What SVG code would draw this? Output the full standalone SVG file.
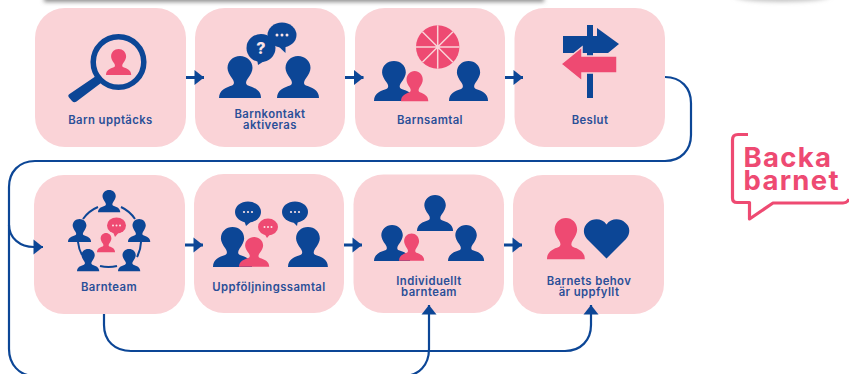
<svg xmlns="http://www.w3.org/2000/svg" width="849" height="374" viewBox="0 0 849 374">
<style>
.card{fill:#fad3d7}
.b{fill:#0c4696}
.p{fill:#ee4a72}
.w{fill:#fbe3e6}
.line{fill:none;stroke:#0c4696;stroke-width:2.2}
.thick{fill:none;stroke:#0c4696;stroke-width:3}
.t{font-family:"Inter","Liberation Sans",sans-serif;font-weight:600;font-size:11.300px;fill:#2a4f98;text-anchor:middle;letter-spacing:.42px}
.logo{font-family:"Inter","Liberation Sans",sans-serif;font-weight:700;font-size:27.500px;fill:#ee4a72;letter-spacing:1.300px}
</style>
<defs>
<filter id="blur" x="-5%" y="-200%" width="110%" height="500%"><feGaussianBlur stdDeviation="2"/></filter>
<path id="person" d="M0 42C0 34 7 31.500 13 29.500C15.500 28.500 15.500 26 13.500 23C10.500 19 8.500 15 8.500 12C8.500 5 14 0 21 0C28 0 33.500 5 33.500 12C33.500 15 31.500 19 28.500 23C26.500 26 26.500 28.500 29 29.500C35 31.500 42 34 42 42Z"/>
<marker id="arrow" markerUnits="userSpaceOnUse" markerWidth="10" markerHeight="15" refX="9.500" refY="7.500" orient="auto" overflow="visible"><path class="b" d="M0 0L9.500 7.500L0 15Z"/></marker>
</defs>
<g id="backdrop">
<rect x="44" y="-12" width="500" height="14" fill="#8f8f8f" filter="url(#blur)"/>
<ellipse cx="782" cy="-4" rx="48" ry="6" fill="#c4c4c4" filter="url(#blur)"/>
</g>

<g id="n1"><rect class="card" x="35" y="8" width="151" height="139" rx="30"/>
<circle cx="118.500" cy="62" r="25.300" fill="none" stroke="#0c4696" stroke-width="5.500"/>
<path class="b" d="M96 76L101 83L76.500 101.500C75 102.500 73.500 102.500 72 101L69 97.500C68 96 68 95 69.500 94Z"/>
<use href="#person" class="p" transform="translate(106 49) scale(.6 .62)"/>
<text class="t" x="110.500" y="124">Barn upptäcks</text></g>

<g id="n2"><rect class="card" x="195" y="8" width="150" height="139" rx="30"/>
<use href="#person" class="b" transform="translate(219 56)"/>
<use href="#person" class="b" transform="translate(277 56)"/>
<ellipse class="b" cx="261" cy="48" rx="14.500" ry="14"/><path class="b" d="M257 58L258 65L269 58Z"/>
<ellipse class="b" cx="282" cy="35" rx="14.500" ry="12.500"/><path class="b" d="M276 44L285.500 53L285.500 44Z"/>
<text x="261" y="54" text-anchor="middle" font-family="Inter,'Liberation Sans',sans-serif" font-weight="800" font-size="16" fill="#fbe3e6">?</text>
<circle class="w" cx="277" cy="35" r="1.500"/><circle class="w" cx="282" cy="35" r="1.500"/><circle class="w" cx="287" cy="35" r="1.500"/>
<text class="t"><tspan x="270" y="118">Barnkontakt</tspan><tspan x="270" y="128.500">aktiveras</tspan></text></g>

<g id="n3"><rect class="card" x="355" y="8" width="150" height="139" rx="30"/>
<circle class="p" cx="437.700" cy="47" r="21.700"/>
<path d="M437.700 25.300V68.700M416 47H459.400M422.400 31.700L453 62.300M453 31.700L422.400 62.300" stroke="#fad3d7" stroke-width="1.500"/>
<use href="#person" class="b" transform="translate(374 61) scale(.95)"/>
<use href="#person" class="p" transform="translate(401 71) scale(.65 .72)"/>
<use href="#person" class="b" transform="translate(449 61) scale(.93 .95)"/>
<text class="t" x="430" y="124">Barnsamtal</text></g>

<g id="n4"><rect class="card" x="514.500" y="8" width="150.500" height="139" rx="30"/>
<rect class="b" x="587" y="25" width="6" height="73"/>
<path class="b" d="M563 36H597V28L619 44L608 53H563Z"/>
<path class="p" d="M561 64L582 47V56H617V73H582V81Z" stroke="#fad3d7" stroke-width="1.500"/>
<text class="t" x="590" y="124">Beslut</text></g>

<g id="n5"><rect class="card" x="34" y="175" width="151" height="139" rx="30"/>
<g fill="none" stroke="#0c4696" stroke-width="2">
<path d="M83 219A34 34 0 0 1 98 207"/><path d="M121 207A34 34 0 0 1 135 219"/><path d="M141 242A34 34 0 0 1 137 257"/><path d="M117 266A34 34 0 0 1 100 266"/><path d="M82 255A34 34 0 0 1 78 242"/></g>
<use href="#person" class="b" transform="translate(98 190) scale(.53)"/>
<use href="#person" class="b" transform="translate(68 219) scale(.55)"/>
<use href="#person" class="b" transform="translate(128 219) scale(.53 .55)"/>
<use href="#person" class="b" transform="translate(77 249) scale(.53)"/>
<use href="#person" class="b" transform="translate(118 249) scale(.53)"/>
<use href="#person" class="p" transform="translate(97 233) scale(.43 .46)"/>
<ellipse class="p" cx="116.500" cy="225.500" rx="9.500" ry="8"/><path class="p" d="M113 232L115 237L120 231Z"/>
<circle class="w" cx="113" cy="225.500" r="1"/><circle class="w" cx="116.500" cy="225.500" r="1"/><circle class="w" cx="120" cy="225.500" r="1"/>
<text class="t" x="109" y="291">Barnteam</text></g>

<g id="n6"><rect class="card" x="194" y="174" width="150" height="139" rx="30"/>
<use href="#person" class="b" transform="translate(213 227) scale(.93 .95)"/>
<use href="#person" class="p" transform="translate(239 237) scale(.72 .71)"/>
<use href="#person" class="b" transform="translate(288 227) scale(.95)"/>
<ellipse class="b" cx="248" cy="212" rx="13" ry="10.500"/><path class="b" d="M244 220L246 226L253 220Z"/>
<ellipse class="p" cx="268" cy="227" rx="10" ry="8.500"/><path class="p" d="M264 233L267 238L271 233Z"/>
<ellipse class="b" cx="295" cy="212" rx="13" ry="10.500"/><path class="b" d="M291 220L297 226L298 220Z"/>
<g class="w"><circle cx="244" cy="212" r="1.100"/><circle cx="248" cy="212" r="1.100"/><circle cx="252" cy="212" r="1.100"/>
<circle cx="264.500" cy="227" r="1"/><circle cx="268" cy="227" r="1"/><circle cx="271.500" cy="227" r="1"/>
<circle cx="291" cy="212" r="1.100"/><circle cx="295" cy="212" r="1.100"/><circle cx="299" cy="212" r="1.100"/></g>
<text class="t" x="269" y="291">Uppföljningssamtal</text></g>

<g id="n7"><rect class="card" x="353.500" y="174.500" width="150.500" height="138.500" rx="30"/>
<use href="#person" class="b" transform="translate(417 195) scale(.86)"/>
<use href="#person" class="b" transform="translate(374 225) scale(.86)"/>
<use href="#person" class="p" transform="translate(399 233.500) scale(.6 .65)"/>
<use href="#person" class="b" transform="translate(448 225) scale(.86)"/>
<text class="t"><tspan x="429" y="285">Individuellt</tspan><tspan x="429" y="296">barnteam</tspan></text></g>

<g id="n8"><rect class="card" x="513" y="175" width="151" height="139" rx="30"/>
<use href="#person" class="p" transform="translate(547 218) scale(.9 .98)"/>
<path class="b" d="M606.500 258.500L587 239C582 233 583.500 226 588 222.500C593 218 602 218 606.500 224.500C611 218 620 218 625 222.500C630 226 631 233 626 239Z"/>
<text class="t"><tspan x="589" y="285">Barnets behov</tspan><tspan x="589" y="296">är uppfyllt</tspan></text></g>

<g id="connectors">
<path class="thick" d="M186 77.500H204" marker-end="url(#arrow)"/>
<path class="thick" d="M345 77.500H363.500" marker-end="url(#arrow)"/>
<path class="thick" d="M505 77.500H523" marker-end="url(#arrow)"/>
<path class="thick" d="M185 245H203" marker-end="url(#arrow)"/>
<path class="thick" d="M344 245H362" marker-end="url(#arrow)"/>
<path class="thick" d="M504 245H522" marker-end="url(#arrow)"/>
<path class="line" d="M665 77C681 77 691 88 691 103V135C691 150 681 161 665 161H35C19 161 9 172 9 187V225C9 238 20 247 34 247H43" marker-end="url(#arrow)"/>
<path class="line" d="M9 225V349C9 364 19 376 35 376H403C419 376 429 365 429 349V305" marker-end="url(#arrow)"/>
<path class="line" d="M104 314V325C104 341 115 351 131 351H565C581 351 591 340 591 325V305" marker-end="url(#arrow)"/>
</g>

<g id="logo">
<path d="M748 134.500H738C734 134.500 732.500 136 732.500 140V198C732.500 201 734 202.500 737 202.500H749.500V219L773 203H843C846 203 848 201.500 849 199" fill="none" stroke="#ee4a72" stroke-width="3.200" stroke-linejoin="round"/>
<text class="logo"><tspan x="743.500" y="167">Backa</tspan><tspan x="743.500" y="190">barnet</tspan></text>
</g>
</svg>
